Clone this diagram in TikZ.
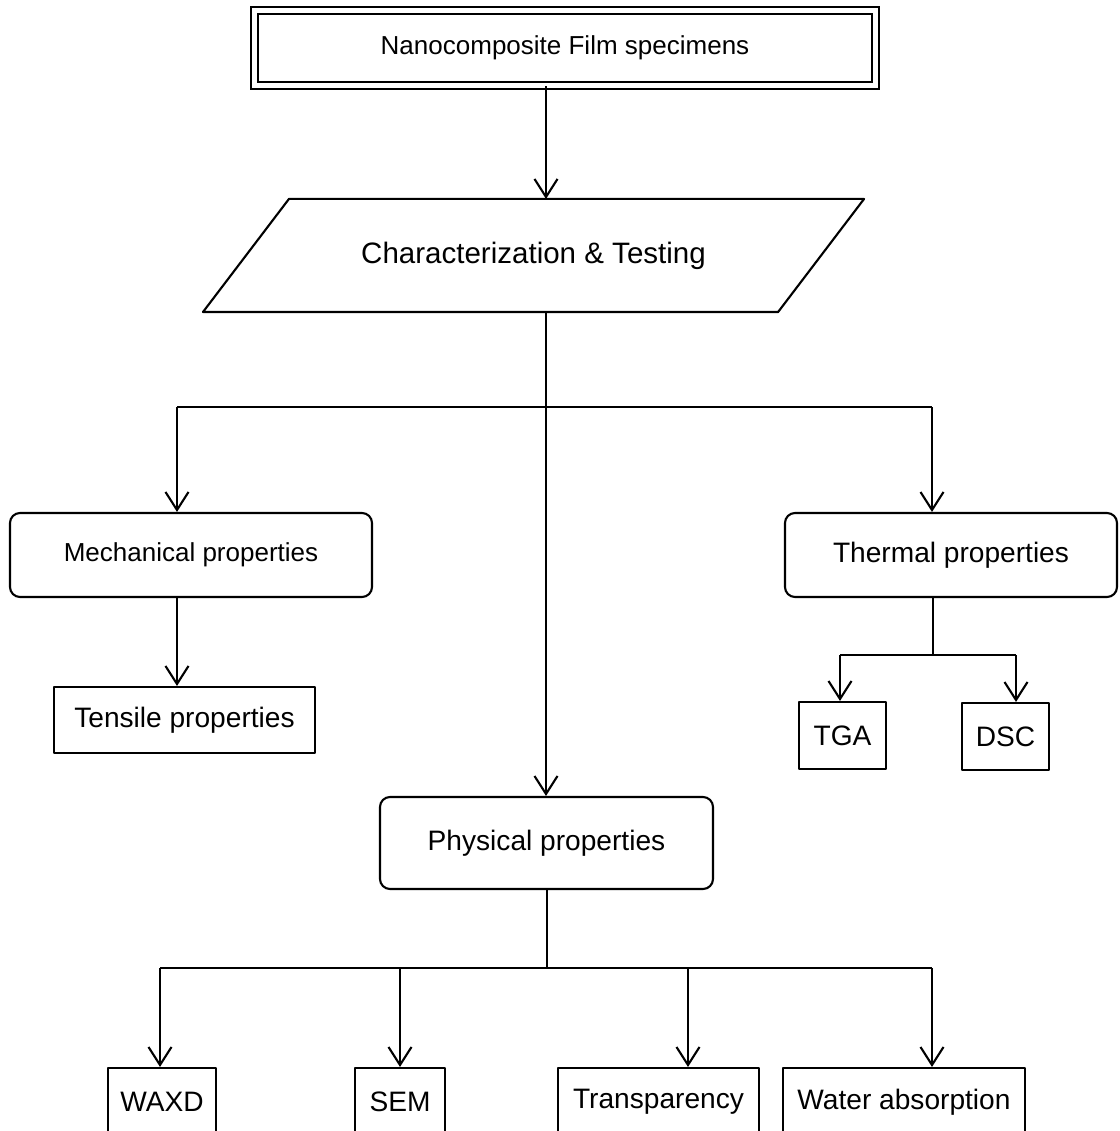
\documentclass[tikz,border=0pt]{standalone}
\usepackage{fontspec}
\setmainfont{Liberation Sans}
\usetikzlibrary{arrows.meta}
\begin{document}
\begin{tikzpicture}[x=0.1mm,y=-0.1mm,>={Straight Barb[length=1.8mm,width=2.3mm]},line width=0.6pt,
	line join=round,font=\fontsize{7.4}{9}\selectfont,
	big/.style={font=\fontsize{8}{10}\selectfont},
	box/.style={draw,rectangle,inner sep=0pt},
	rbox/.style={draw,rectangle,rounded corners=1mm,inner sep=0pt}]
	\useasboundingbox (0,0) rectangle (1120,1131);
	% boxes
	\node[box,double,double distance=1.3pt,line join=miter,minimum width=62.1mm,minimum height=7.45mm] (spec) at (565,48) {Nanocomposite Film specimens};
	\node[minimum width=57.3mm,minimum height=11.1mm,inner sep=0pt,font=\fontsize{8.4}{10}\selectfont] (chara) at (533.5,255.5) {Characterization \& Testing};
	\draw ([xshift=4.3mm]chara.north west)--([xshift=4.3mm]chara.north east)
		--([xshift=-4.3mm]chara.south east)--([xshift=-4.3mm]chara.south west)--cycle;
	\node[rbox,minimum width=36.2mm,minimum height=8.4mm] (mech) at (191,555) {Mechanical properties};
	\node[rbox,big,minimum width=33.2mm,minimum height=8.4mm] (therm) at (951,555) {Thermal properties};
	\node[rbox,big,minimum width=33.3mm,minimum height=9.2mm] (phys) at (546.5,843) {Physical properties};
	\node[box,big,minimum width=26.1mm,minimum height=6.6mm] (tens) at (184.5,720) {Tensile properties};
	\node[box,big,minimum width=8.7mm,minimum height=6.7mm] (tga) at (842.5,735.5) {TGA};
	\node[box,big,minimum width=8.7mm,minimum height=6.7mm] (dsc) at (1005.5,736.5) {DSC};
	\node[box,big,minimum width=10.8mm,minimum height=6.8mm] (waxd) at (162,1102) {WAXD};
	\node[box,big,minimum width=9mm,minimum height=6.8mm] (sem) at (400,1102) {SEM};
	\node[box,big,minimum width=20.1mm,minimum height=6.8mm] (transp) at (658.5,1102) {Transparency};
	\node[box,big,minimum width=24.2mm,minimum height=6.8mm] (water) at (904,1102) {Water absorption};
	% branch points
	\path
	(546,407)coordinate(C)
	(177,407)coordinate(CL)
	(932,407)coordinate(CR)
	(933,655)coordinate(T)
	(840,655)coordinate(T1)
	(1016,655)coordinate(T2)
	(547,968)coordinate(P)
	(160,968)coordinate(P1)
	(400,968)coordinate(P2)
	(688,968)coordinate(P3)
	(932,968)coordinate(P4)
	;
	\draw[->] (spec.south-|C)--(chara.north-|C);
	\draw[->] (chara.south-|C)--(phys.north-|C);
	\draw (CL)--(CR);
	\foreach \x/\n in {CL/mech,CR/therm} \draw[->](\x)--(\x|-\n.north);
	\draw[->] (mech.south-|CL)--(tens.north-|CL);
	\draw (therm.south-|T)--(T);
	\draw (T1)--(T2);
	\foreach \x/\n in {T1/tga,T2/dsc} \draw[->](\x)--(\x|-\n.north);
	\draw (phys.south-|P)--(P);
	\draw (P1)--(P4);
	\foreach \x/\n in {P1/waxd,P2/sem,P3/transp,P4/water} \draw[->](\x)--(\x|-\n.north);
\end{tikzpicture}
\end{document}
